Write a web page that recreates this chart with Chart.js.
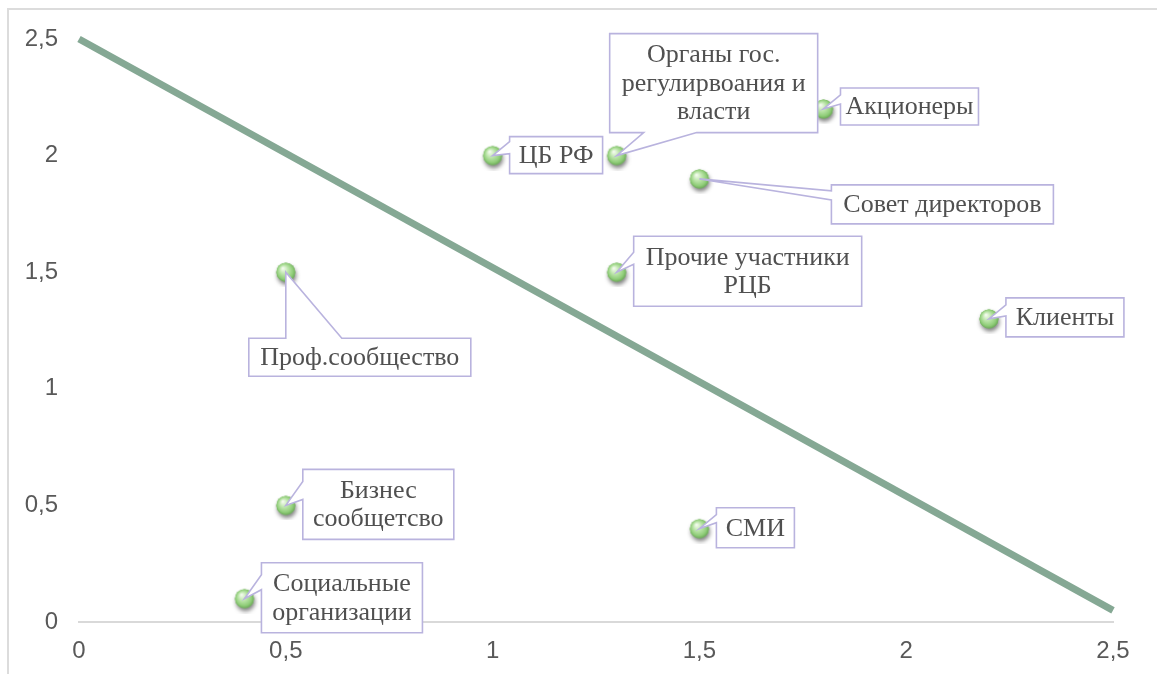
<!DOCTYPE html>
<html lang="ru">
<head>
<meta charset="utf-8">
<title>Карта заинтересованных сторон</title>
<script src="https://cdn.jsdelivr.net/npm/chart.js@4/dist/chart.umd.min.js"></script>
<style>
  html, body { margin: 0; padding: 0; background: #fff; overflow: hidden; }
  #wrap { position: relative; width: 1157px; height: 674px; }
  #frame {
    position: absolute; left: 7px; top: 8px; width: 1400px; height: 900px;
    border-top: 2px solid #dcdcdc; border-left: 2px solid #dcdcdc;
  }
  #chart { position: absolute; left: 0; top: 0; }
</style>
</head>
<body>
<div id="wrap">
  <div id="frame"></div>
  <canvas id="chart" width="1157" height="674"></canvas>
</div>
<script>
// ── Data ─────────────────────────────────────
const names = [
  'ЦБ РФ',
  'Органы гос.\nрегулирвоания и\nвласти',
  'Акционеры',
  'Совет директоров',
  'Прочие участники\nРЦБ',
  'Клиенты',
  'Проф.сообщество',
  'Бизнес\nсообщетсво',
  'Социальные\nорганизации',
  'СМИ',
];
const xs = [1, 1.3, 1.8, 1.5, 1.3, 2.2, 0.5, 0.5, 0.4, 1.5];
const ys = [2, 2,   2.2, 1.9, 1.5, 1.3, 1.5, 0.5, 0.1, 0.4];

const lineX = [0, 2.5];
const lineY = [2.5, 0.05];

const tickValues = [0, 0.5, 1, 1.5, 2, 2.5];

// ── Callout boxes (layout only): offset of box from point, size, notch side/base
const CALLOUTS = [
  { dx: 17,  dy: -19,  w: 93,  h: 37, side: 'left',   base: [5, 17] },
  { dx: -7,  dy: -122, w: 208, h: 99, side: 'bottom', base: [34, 87] },
  { dx: 17,  dy: -21,  w: 138, h: 37, side: 'left',   base: [7, 16] },
  { dx: 132, dy: 6,    w: 222, h: 39, side: 'left',   base: [6, 15] },
  { dx: 17,  dy: -36,  w: 228, h: 70, side: 'left',   base: [16, 28] },
  { dx: 17,  dy: -21,  w: 118, h: 39, side: 'left',   base: [7, 18] },
  { dx: -37, dy: 66,   w: 222, h: 38, side: 'top',    base: [37, 93] },
  { dx: 17,  dy: -36,  w: 151, h: 70, side: 'left',   base: [12, 30] },
  { dx: 17,  dy: -36,  w: 161, h: 70, side: 'left',   base: [12, 27] },
  { dx: 17,  dy: -21,  w: 78,  h: 40, side: 'left',   base: [7, 15] },
];

// ── Glossy green ball used as point style ────
function makeBall() {
  const c = document.createElement('canvas');
  c.width = 30; c.height = 30;
  const g = c.getContext('2d');
  const cx = 15, cy = 15, r = 9.5;
  g.save();
  g.shadowColor = 'rgba(0,0,0,0.5)';
  g.shadowBlur = 4;
  g.shadowOffsetX = 1;
  g.shadowOffsetY = 3;
  g.beginPath(); g.arc(cx, cy, r, 0, Math.PI * 2);
  g.fillStyle = '#7fbb6b';
  g.fill();
  g.restore();
  const grad = g.createRadialGradient(cx - 3, cy - 4, 0.5, cx, cy, r + 1);
  grad.addColorStop(0,    '#f4fbef');
  grad.addColorStop(0.35, '#c2e8b1');
  grad.addColorStop(0.75, '#8fcd78');
  grad.addColorStop(1,    '#5f9c4c');
  g.beginPath(); g.arc(cx, cy, r, 0, Math.PI * 2);
  g.fillStyle = grad;
  g.fill();
  return c;
}
const BALL = makeBall();

// ── Callout plugin ───────────────────────────
const calloutPlugin = {
  id: 'callouts',
  afterDatasetsDraw(chart) {
    const ctx  = chart.ctx;
    const meta = chart.getDatasetMeta(1);
    ctx.save();
    meta.data.forEach((pt, i) => {
      const c = CALLOUTS[i];
      const px = pt.x, py = pt.y;
      const L = px + c.dx, T = py + c.dy, R = L + c.w, B = T + c.h;
      ctx.beginPath();
      if (c.side === 'left') {
        ctx.moveTo(L, T); ctx.lineTo(R, T); ctx.lineTo(R, B); ctx.lineTo(L, B);
        ctx.lineTo(L, T + c.base[1]); ctx.lineTo(px, py); ctx.lineTo(L, T + c.base[0]);
      } else if (c.side === 'top') {
        ctx.moveTo(L, T); ctx.lineTo(L + c.base[0], T); ctx.lineTo(px, py);
        ctx.lineTo(L + c.base[1], T); ctx.lineTo(R, T); ctx.lineTo(R, B); ctx.lineTo(L, B);
      } else { // bottom
        ctx.moveTo(L, T); ctx.lineTo(R, T); ctx.lineTo(R, B);
        ctx.lineTo(L + c.base[1], B); ctx.lineTo(px, py); ctx.lineTo(L + c.base[0], B);
        ctx.lineTo(L, B);
      }
      ctx.closePath();
      ctx.fillStyle = '#ffffff';
      ctx.fill();
      ctx.lineWidth = 1.6;
      ctx.strokeStyle = '#b9b3de';
      ctx.lineJoin = 'miter';
      ctx.stroke();

      const lines = names[i].split('\n');
      const lh = 28.5;
      ctx.font = '26px "Liberation Serif", "Times New Roman", serif';
      ctx.fillStyle = '#505050';
      ctx.textAlign = 'center';
      ctx.textBaseline = 'middle';
      const cy0 = (T + B) / 2 - (lines.length - 1) * lh / 2;
      lines.forEach((s, k) => ctx.fillText(s, (L + R) / 2, cy0 + k * lh + 1));
    });
    ctx.restore();
  },
};

const fmt = v => String(v).replace('.', ',');
const TICK_FONT = { family: '"Liberation Sans", Arial, sans-serif', size: 24 };

new Chart(document.getElementById('chart'), {
  type: 'scatter',
  data: {
    datasets: [
      {
        type: 'line',
        data: lineX.map((x, i) => ({ x, y: lineY[i] })),
        borderColor: '#85a894',
        borderWidth: 7,
        borderCapStyle: 'butt',
        pointRadius: 0,
        fill: false,
        clip: false,
      },
      {
        data: xs.map((x, i) => ({ x, y: ys[i] })),
        pointStyle: BALL,
        pointRadius: 9,
        clip: false,
      },
    ],
  },
  options: {
    responsive: false,
    animation: false,
    events: [],
    layout: { padding: { top: 39, right: 44, left: 0, bottom: 0 } },
    plugins: {
      legend: { display: false },
      tooltip: { enabled: false },
    },
    scales: {
      x: {
        type: 'linear',
        min: 0, max: 2.5,
        afterBuildTicks: s => { s.ticks = tickValues.map(v => ({ value: v })); },
        afterFit: s => { s.height = 52; },
        grid: { display: false },
        border: { display: true, color: '#d9d9d9', width: 2 },
        ticks: { color: '#595959', font: TICK_FONT, padding: 7, callback: fmt, maxRotation: 0 },
      },
      y: {
        type: 'linear',
        min: 0, max: 2.5,
        afterBuildTicks: s => { s.ticks = tickValues.map(v => ({ value: v })); },
        afterFit: s => { s.width = 79; },
        grid: { display: false },
        border: { display: false },
        ticks: { color: '#595959', font: TICK_FONT, padding: 13, callback: fmt },
      },
    },
  },
  plugins: [calloutPlugin],
});
</script>
</body>
</html>
